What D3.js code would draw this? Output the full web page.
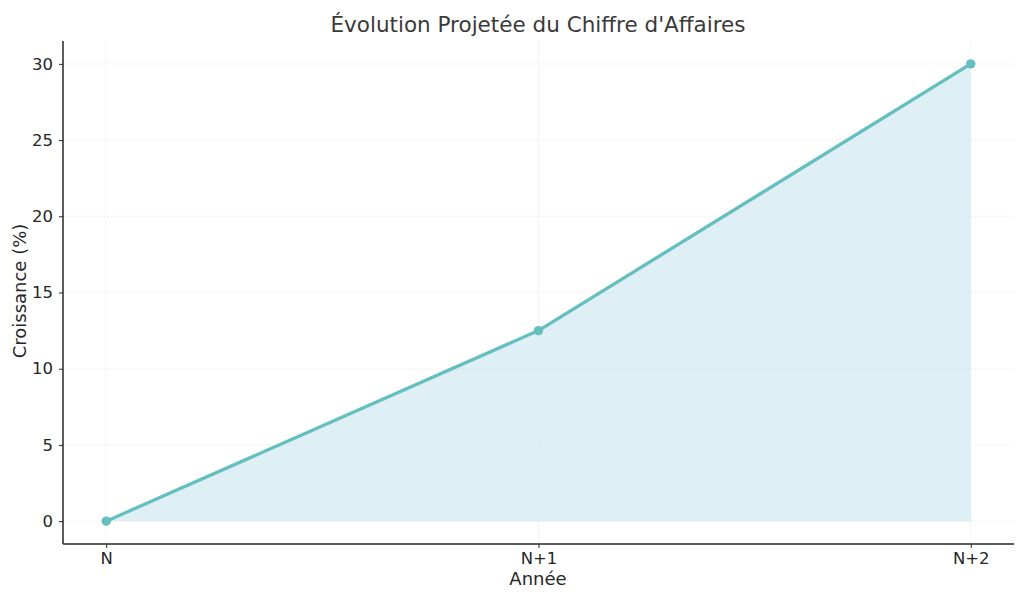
<!DOCTYPE html>
<html><head><meta charset="utf-8">
<script src="https://cdn.jsdelivr.net/npm/d3@7"></script>
<style>body{margin:0;background:#fff}svg{font-family:"DejaVu Sans",sans-serif}</style>
</head><body>
<svg id="c" width="1024" height="601"></svg>
<script>
const categories = ["N", "N+1", "N+2"];
const values = [0, 12.5, 30];
const yTicks = [0, 5, 10, 15, 20, 25, 30];
const title = "Évolution Projetée du Chiffre d'Affaires";
const xLabel = "Année";
const yLabel = "Croissance (%)";

const svg = d3.select("#c");
const L = 63, R = 1014, T = 41, B = 544;
const x = d3.scaleLinear().domain([-0.1, 2.1]).range([L, R]);
const y = d3.scaleLinear().domain([-1.5, 31.5]).range([B, T]);
const data = categories.map((c, i) => ({c, i, v: values[i]}));

// grid
const g = svg.append("g");
g.selectAll(".gy").data(yTicks).join("line")
  .attr("x1", L).attr("x2", R).attr("y1", d => y(d)).attr("y2", d => y(d))
  .attr("stroke", "#ebebeb").attr("stroke-width", 0.8).attr("stroke-dasharray", "2,2");
g.selectAll(".gx").data(data).join("line")
  .attr("x1", d => x(d.i)).attr("x2", d => x(d.i)).attr("y1", T).attr("y2", B)
  .attr("stroke", "#ebebeb").attr("stroke-width", 0.8).attr("stroke-dasharray", "2,2");

// area
svg.append("path").datum(data)
  .attr("d", d3.area().x(d => x(d.i)).y0(y(0)).y1(d => y(d.v)))
  .attr("fill", "#add8e6").attr("fill-opacity", 0.4);

// line
svg.append("path").datum(data)
  .attr("d", d3.line().x(d => x(d.i)).y(d => y(d.v)))
  .attr("fill", "none").attr("stroke", "#66bfbf").attr("stroke-width", 3.3).attr("stroke-linejoin", "round");
svg.selectAll(".pt").data(data).join("circle")
  .attr("cx", d => x(d.i)).attr("cy", d => y(d.v)).attr("r", 4.7).attr("fill", "#66bfbf");

// axes
const xa = svg.append("g").attr("transform", `translate(0,${B})`)
  .call(d3.axisBottom(x).tickValues([0, 1, 2]).tickFormat(i => categories[i]).tickSizeOuter(0).tickSize(4).tickPadding(4));
const ya = svg.append("g").attr("transform", `translate(${L},0)`)
  .call(d3.axisLeft(y).tickValues(yTicks).tickSizeOuter(0).tickSize(4).tickPadding(6));
[xa, ya].forEach(a => {
  a.attr("font-size", 16.5).attr("font-family", "DejaVu Sans");
  a.select(".domain").attr("stroke", "#262626").attr("stroke-width", 1.5);
  a.selectAll(".tick line").attr("stroke", "#262626").attr("stroke-width", 1);
  a.selectAll(".tick text").attr("fill", "#262626");
});
xa.select(".domain").attr("d", `M${L},0H${R}`);
ya.select(".domain").attr("d", `M0,${B}V${T}`);

svg.append("text").attr("x", 538).attr("y", 32).attr("text-anchor", "middle")
  .attr("font-size", 21.5).attr("fill", "#3a3a3a").text(title);
svg.append("text").attr("x", 538).attr("y", 585).attr("text-anchor", "middle")
  .attr("font-size", 18).attr("fill", "#262626").text(xLabel);
svg.append("text").attr("transform", "translate(26,291) rotate(-90)").attr("text-anchor", "middle")
  .attr("font-size", 18).attr("fill", "#262626").text(yLabel);
</script>
</body></html>
